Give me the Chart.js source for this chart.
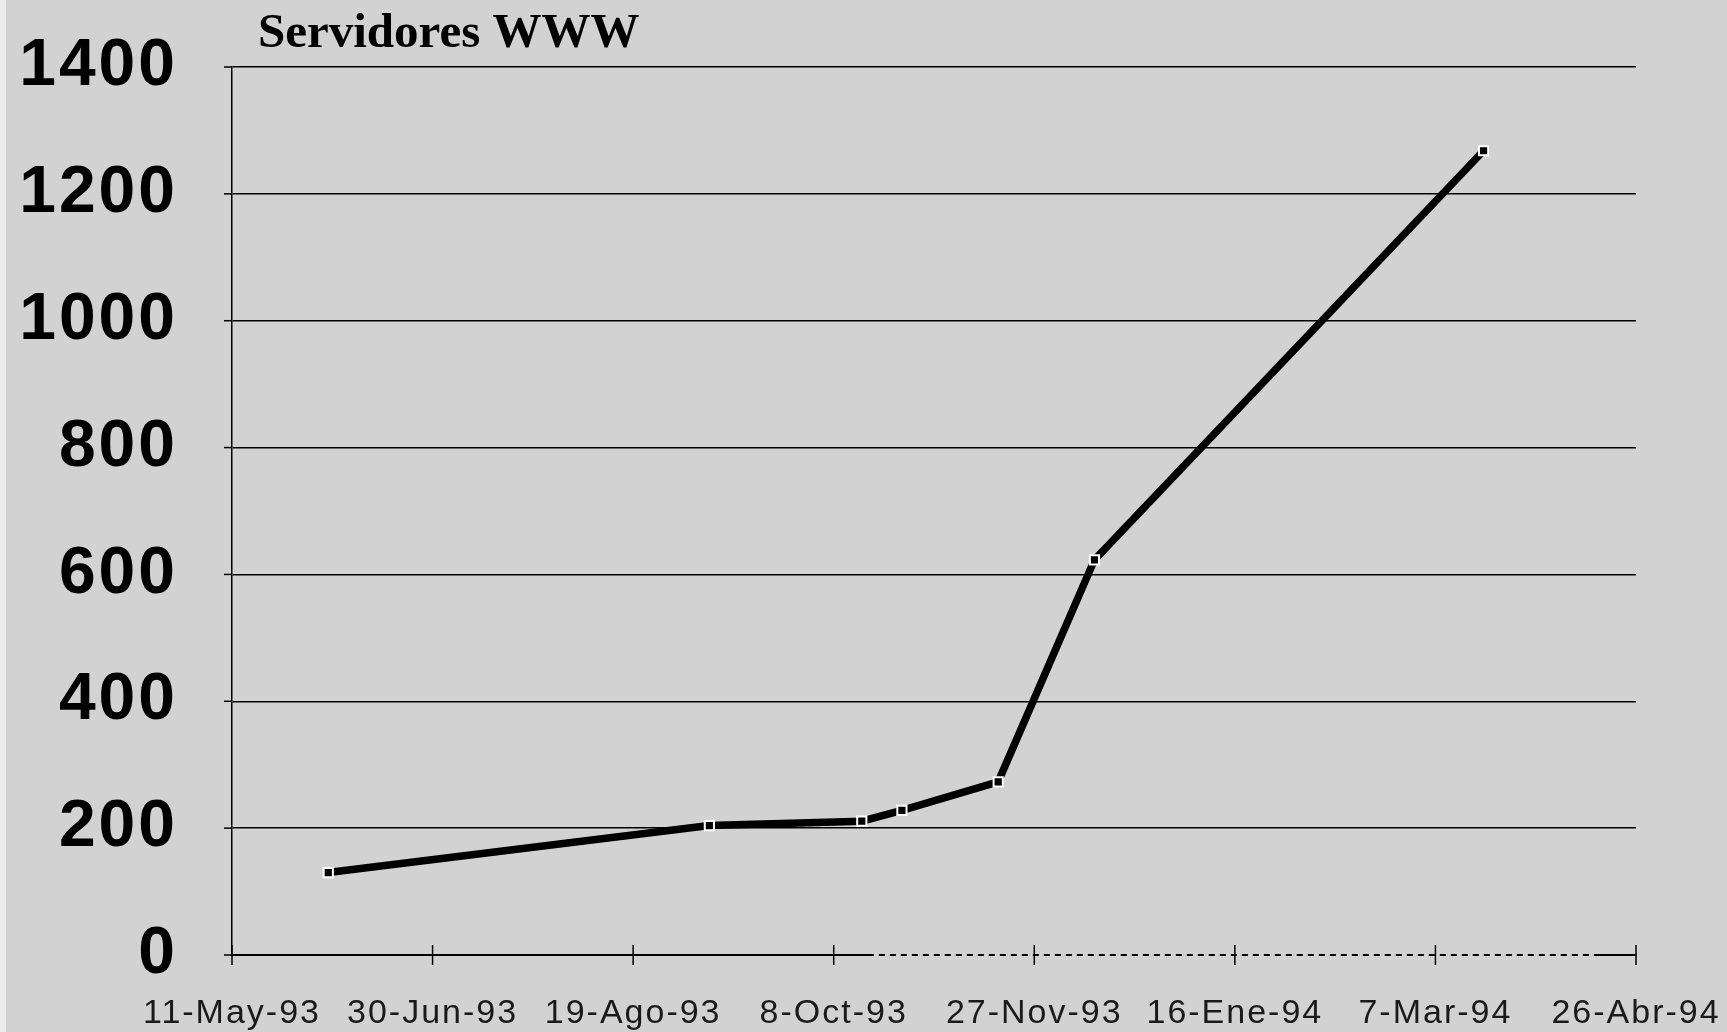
<!DOCTYPE html>
<html>
<head>
<meta charset="utf-8">
<script src="https://cdn.jsdelivr.net/npm/chart.js@4/dist/chart.umd.min.js"></script>
<style>
  html, body { margin: 0; padding: 0; background: #d2d2d2; }
  body { width: 1727px; height: 1032px; overflow: hidden; position: relative; }
  #strip { position: absolute; left: 0; top: 0; width: 6px; height: 1032px; background: #ececec; }
  #wrap { position: absolute; left: 0; top: 0; width: 1727px; height: 1032px; }
</style>
</head>
<body>
<div id="strip"></div>
<div id="wrap"><canvas id="c" width="1727" height="1032"></canvas></div>
<script>
// ---- data ----
const chartTitle = "Servidores WWW";
const startDate = "1993-05-11";
const pointDates = ["1993-06-04", "1993-09-07", "1993-10-15", "1993-10-25", "1993-11-18", "1993-12-12", "1994-03-19"];
const serverCounts = [130, 204, 211, 228, 273, 623, 1268];
const xTickLabels = ["11-May-93", "30-Jun-93", "19-Ago-93", "8-Oct-93", "27-Nov-93", "16-Ene-94", "7-Mar-94", "26-Abr-94"];
const xTickStepDays = 50;
const yMin = 0, yMax = 1400, yStep = 200;
// stretch of the x axis that is drawn broken in the original (in days from start)
const brokenAxisDays = [160, 340];

// ---- helpers ----
function dayNum(s) { const p = s.split("-").map(Number); return Date.UTC(p[0], p[1] - 1, p[2]) / 86400000; }
const day0 = dayNum(startDate);
const points = pointDates.map((d, i) => ({ x: dayNum(d) - day0, y: serverCounts[i] }));
const xMax = (xTickLabels.length - 1) * xTickStepDays;

function spaceLabels(scale, spacing) {
  if (scale._spaced) return;
  scale._spaced = true;
  const orig = scale.drawLabels;
  scale.drawLabels = function (area) {
    const ctx = this.ctx;
    const prev = ctx.letterSpacing;
    ctx.letterSpacing = spacing;
    orig.call(this, area);
    ctx.letterSpacing = prev || '0px';
  };
}

const extrasPlugin = {
  id: 'extras',
  afterLayout(chart) {
    spaceLabels(chart.scales.y, '3px');
    spaceLabels(chart.scales.x, '2px');
  },
  afterDraw(chart) {
    const ctx = chart.ctx;
    const xs = chart.scales.x;
    const ys = chart.scales.y;
    const area = chart.chartArea;
    ctx.save();
    // broken stretch of the x axis
    ctx.strokeStyle = '#d2d2d2';
    ctx.lineWidth = 3;
    ctx.setLineDash([5, 6]);
    ctx.beginPath();
    ctx.moveTo(xs.getPixelForValue(brokenAxisDays[0]), area.bottom);
    ctx.lineTo(xs.getPixelForValue(brokenAxisDays[1]), area.bottom);
    ctx.stroke();
    ctx.setLineDash([]);
    // tick marks crossing the x axis
    ctx.strokeStyle = '#000';
    ctx.lineWidth = 1.5;
    xs.ticks.forEach(t => {
      const px = xs.getPixelForValue(t.value);
      ctx.beginPath();
      ctx.moveTo(px, area.bottom - 10);
      ctx.lineTo(px, area.bottom + 10);
      ctx.stroke();
    });
    // short tick stubs left of the y axis
    ys.ticks.forEach(t => {
      const py = ys.getPixelForValue(t.value);
      ctx.beginPath();
      ctx.moveTo(area.left - 8, py);
      ctx.lineTo(area.left, py);
      ctx.stroke();
    });
    // title
    ctx.letterSpacing = '0px';
    ctx.fillStyle = '#000';
    ctx.font = 'bold 49px "Liberation Serif", "Times New Roman", serif';
    ctx.textBaseline = 'alphabetic';
    ctx.textAlign = 'left';
    ctx.fillText(chartTitle, area.left + 26, 47);
    ctx.restore();
  }
};

new Chart(document.getElementById('c'), {
  type: 'line',
  data: {
    datasets: [{
      data: points,
      borderColor: '#000',
      borderWidth: 7.5,
      tension: 0,
      pointStyle: 'rect',
      pointRadius: 6.5,
      pointBackgroundColor: '#000',
      pointBorderColor: '#fff',
      pointBorderWidth: 2,
      fill: false
    }]
  },
  options: {
    responsive: false,
    animation: false,
    devicePixelRatio: 1,
    layout: { padding: { top: 67, right: 91, left: 0, bottom: 0 } },
    plugins: { legend: { display: false }, tooltip: { enabled: false }, title: { display: false } },
    scales: {
      x: {
        type: 'linear',
        min: 0,
        max: xMax,
        afterFit(scale) { scale.height = 77; },
        afterBuildTicks(scale) {
          scale.ticks = xTickLabels.map((_, i) => ({ value: i * xTickStepDays }));
        },
        ticks: {
          autoSkip: false,
          maxRotation: 0,
          minRotation: 0,
          padding: 0,
          color: '#1a1a1a',
          font: { family: '"Liberation Sans", Arial, sans-serif', size: 34 },
          callback: (v) => xTickLabels[Math.round(v / xTickStepDays)]
        },
        grid: { drawOnChartArea: false, drawTicks: true, tickLength: 38, tickColor: 'rgba(0,0,0,0)', color: '#000', lineWidth: 1.5 },
        border: { display: true, color: '#000', width: 2 }
      },
      y: {
        min: yMin,
        max: yMax,
        afterFit(scale) { scale.width = 232; },
        ticks: {
          stepSize: yStep,
          padding: 0,
          color: '#000',
          font: { family: '"Liberation Sans", Arial, sans-serif', size: 66, weight: 'bold' },
          callback: (v) => String(v)
        },
        grid: { color: '#000', lineWidth: 1.5, drawTicks: true, tickLength: 54, tickColor: 'rgba(0,0,0,0)' },
        border: { display: true, color: '#000', width: 1.5 }
      }
    }
  },
  plugins: [extrasPlugin]
});
</script>
</body>
</html>
